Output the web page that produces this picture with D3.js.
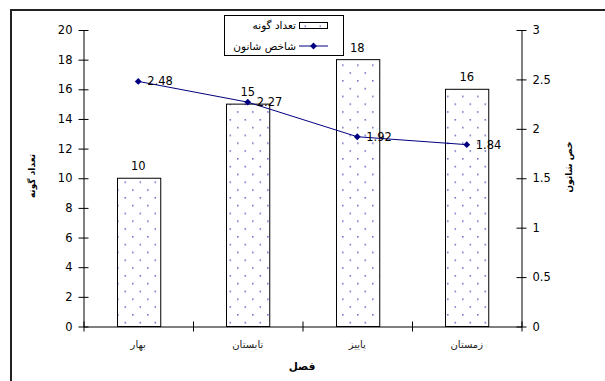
<!DOCTYPE html>
<html>
<head>
<meta charset="utf-8">
<script src="https://cdn.jsdelivr.net/npm/d3@7"></script>
<style>
  body { margin: 0; background: #fff; }
  text { font-family: "DejaVu Sans", "Liberation Sans", sans-serif; }
</style>
</head>
<body>
<div id="viz_container"></div>
<script>
// chart data
const seasons = ["بهار", "تابستان", "پاییز", "زمستان"];
const speciesCount = [10, 15, 18, 16];
const shannonIndex = [2.48, 2.27, 1.92, 1.84];
const leftTicks = [0, 2, 4, 6, 8, 10, 12, 14, 16, 18, 20];
const rightTicks = [0, 0.5, 1, 1.5, 2, 2.5, 3];
const seriesNames = ["تعداد گونه", "شاخص شانون"];

const width = 605, height = 381;
const svg = d3.select("#viz_container")
  .append("svg")
  .attr("width", width)
  .attr("height", height)
  .style("display", "block");

// dotted fill pattern for the bars
const defs = svg.append("defs");
const pat = defs.append("pattern")
  .attr("id", "dots")
  .attr("patternUnits", "userSpaceOnUse")
  .attr("width", 15)
  .attr("height", 15.6)
  .attr("x", 117)
  .attr("y", 2);
pat.append("rect").attr("width", 15).attr("height", 15.6).attr("fill", "#fff");
pat.append("rect").attr("x", 0).attr("y", 0).attr("width", 1.6).attr("height", 1.6).attr("fill", "#7878c8");
pat.append("rect").attr("x", 7.5).attr("y", 7.8).attr("width", 1.6).attr("height", 1.6).attr("fill", "#7878c8");

const plotLeft = 83.5, plotRight = 521.5, plotTop = 30, plotBottom = 326.5;
const numFont = "11.5px";

// scales
const x = d3.scaleBand()
  .domain(seasons)
  .range([plotLeft, plotRight])
  .paddingInner(0.605)
  .paddingOuter(0.3025);
const xEdge = d3.scaleLinear().domain([0, seasons.length]).range([plotLeft, plotRight]);
const yL = d3.scaleLinear().domain([0, 20]).range([plotBottom, plotTop]);
const yR = d3.scaleLinear().domain([0, 3]).range([plotBottom, plotTop]);

// bars
const bars = svg.append("g");
bars.selectAll("rect")
  .data(speciesCount)
  .join("rect")
  .attr("x", (d, i) => Math.round(x(seasons[i])) + 0.5)
  .attr("y", d => yL(d))
  .attr("width", x.bandwidth())
  .attr("height", d => plotBottom - yL(d))
  .attr("fill", "url(#dots)")
  .attr("stroke", "#000")
  .attr("stroke-width", 1);

bars.selectAll("text")
  .data(speciesCount)
  .join("text")
  .attr("x", (d, i) => x(seasons[i]) + x.bandwidth() / 2)
  .attr("y", d => yL(d) - 8)
  .attr("text-anchor", "middle")
  .style("font-size", numFont)
  .text(d => d);

// left axis
const axL = svg.append("g")
  .attr("transform", `translate(${plotLeft},0)`)
  .call(d3.axisLeft(yL).tickValues(leftTicks).tickSize(0).tickPadding(11));
axL.attr("font-family", null);
axL.select(".domain").attr("stroke", "#000");
axL.selectAll(".tick line").attr("x1", -5).attr("x2", 5).attr("stroke", "#000");
axL.selectAll(".tick text").style("font-size", numFont).attr("fill", "#000");

// right axis
const axR = svg.append("g")
  .attr("transform", `translate(${plotRight},0)`)
  .call(d3.axisRight(yR).tickValues(rightTicks).tickSize(0).tickPadding(11).tickFormat(d => d));
axR.attr("font-family", null);
axR.select(".domain").attr("stroke", "#000");
axR.selectAll(".tick line").attr("x1", -5).attr("x2", 5).attr("stroke", "#000");
axR.selectAll(".tick text").style("font-size", numFont).attr("fill", "#000");

// bottom axis with ticks between categories
const axB = svg.append("g")
  .attr("transform", `translate(0,${plotBottom})`)
  .call(d3.axisBottom(xEdge).tickValues(d3.range(0, seasons.length + 1)).tickSize(0).tickFormat(""));
axB.select(".domain").attr("stroke", "#000");
axB.selectAll(".tick line").attr("y1", -5).attr("y2", 5).attr("stroke", "#000");

svg.append("g")
  .selectAll("text")
  .data(seasons)
  .join("text")
  .attr("x", d => x(d) + x.bandwidth() / 2)
  .attr("y", 348)
  .attr("text-anchor", "middle")
  .attr("fill", "#222")
  .style("font-size", "10px")
  .text(d => d);

// line series
const line = d3.line()
  .x((d, i) => x(seasons[i]) + x.bandwidth() / 2)
  .y(d => yR(d));
svg.append("path")
  .datum(shannonIndex)
  .attr("d", line)
  .attr("fill", "none")
  .attr("stroke", "#000080")
  .attr("stroke-width", 1);

const diamond = d3.symbol().type(d3.symbolDiamond2).size(30);
svg.append("g")
  .selectAll("path")
  .data(shannonIndex)
  .join("path")
  .attr("transform", (d, i) => `translate(${x(seasons[i]) + x.bandwidth() / 2},${yR(d)})`)
  .attr("d", diamond)
  .attr("fill", "#000080");

svg.append("g")
  .selectAll("text")
  .data(shannonIndex)
  .join("text")
  .attr("x", (d, i) => x(seasons[i]) + x.bandwidth() / 2 + 9)
  .attr("y", d => yR(d) + 4)
  .style("font-size", numFont)
  .text(d => d);

// axis titles
svg.append("text")
  .attr("transform", "translate(35,176) rotate(-90)")
  .attr("text-anchor", "middle")
  .style("font-size", "9px")
  .style("font-weight", "bold")
  .text(seriesNames[0]);

svg.append("text")
  .attr("transform", "translate(572,167) rotate(-90)")
  .attr("text-anchor", "middle")
  .style("font-size", "9px")
  .style("font-weight", "bold")
  .text("خص شانون");

svg.append("text")
  .attr("x", 302)
  .attr("y", 370)
  .attr("text-anchor", "middle")
  .style("font-size", "10.5px")
  .style("font-weight", "bold")
  .text("فصل");

// legend
const legend = svg.append("g");
legend.append("rect")
  .attr("x", 224.5).attr("y", 15.5)
  .attr("width", 119).attr("height", 40)
  .attr("fill", "#fff")
  .attr("stroke", "#000");
legend.append("text")
  .attr("x", 296).attr("y", 28.5)
  .attr("text-anchor", "end")
  .style("font-size", "10.5px")
  .text(seriesNames[0]);
legend.append("rect")
  .attr("x", 299.5).attr("y", 22.5)
  .attr("width", 28).attr("height", 6)
  .attr("fill", "url(#dots)")
  .attr("stroke", "#000");
legend.append("text")
  .attr("x", 296).attr("y", 49.5)
  .attr("text-anchor", "end")
  .style("font-size", "10.5px")
  .text(seriesNames[1]);
legend.append("line")
  .attr("x1", 299).attr("x2", 328)
  .attr("y1", 46).attr("y2", 46)
  .attr("stroke", "#000080");
legend.append("path")
  .attr("transform", "translate(313.5,46)")
  .attr("d", diamond)
  .attr("fill", "#000080");

// outer frame (runs past the right and bottom edges), drawn last
const frame = svg.append("g");
frame.append("rect").attr("x", 10).attr("y", 9).attr("width", 595).attr("height", 2).attr("fill", "#222");
frame.append("rect").attr("x", 10).attr("y", 9).attr("width", 2).attr("height", 372).attr("fill", "#222");
</script>
</body>
</html>
